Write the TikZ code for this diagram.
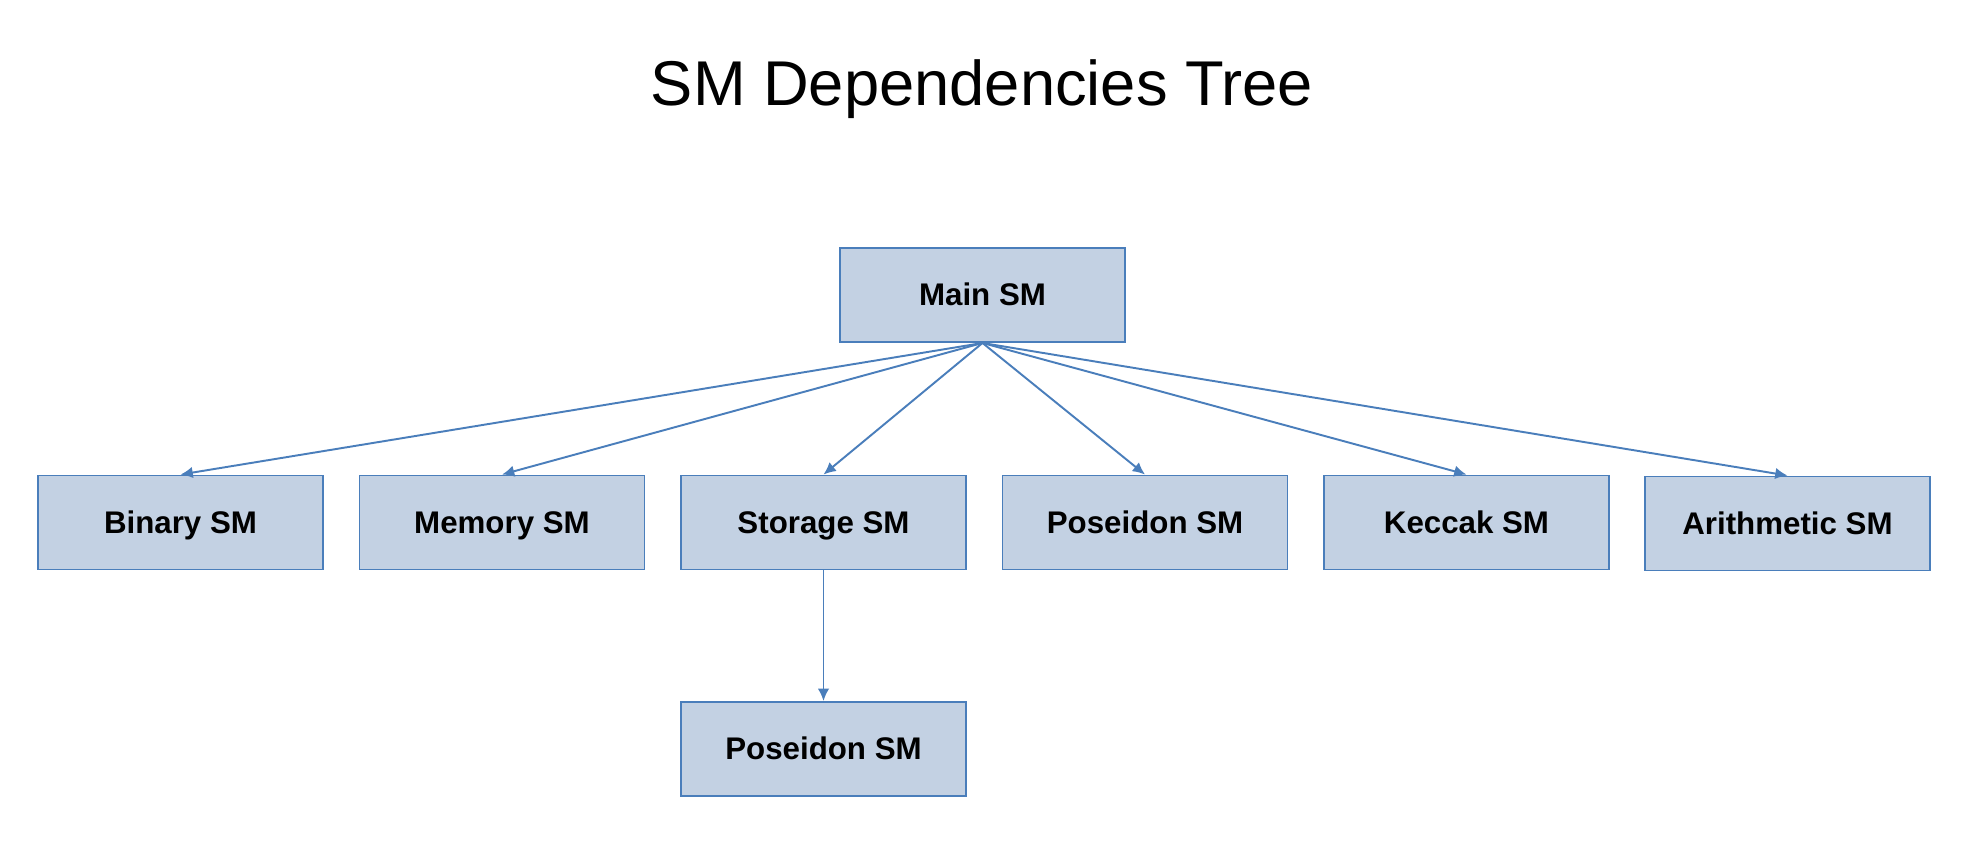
\documentclass[tikz,border=0pt]{standalone}
\usepackage{fontspec}
\setmainfont{Liberation Sans}
\usetikzlibrary{arrows.meta}
\definecolor{smfill}{RGB}{195,209,227}
\definecolor{smline}{RGB}{74,126,187}
\tikzset{smbox/.style={draw=smline, fill=smfill, line width=1.1pt, minimum width=5.7cm, minimum height=1.88cm, inner sep=0pt, text height=12.5pt, text depth=0pt, font=\fontsize{17.8}{20}\selectfont\bfseries}}
\tikzset{dep/.style={draw=smline, line width=1.1pt, -{Latex[length=7pt,width=6.5pt]}}}

\begin{document}
\begin{tikzpicture}
      \useasboundingbox (0, 0) rectangle (39.52, -17.02);

      \node (title) at (19.64, -1.78) {\fontsize{36}{40}\selectfont SM Dependencies Tree};

      \node [smbox] (main) at (19.65, -5.9) {Main SM};

      \node [smbox] (binary) at (3.61, -10.45) {Binary SM};
      \node [smbox] (memory) at (10.04, -10.45) {Memory SM};
      \node [smbox] (storage) at (16.47, -10.45) {Storage SM};
      \node [smbox] (poseidon) at (22.9, -10.45) {Poseidon SM};
      \node [smbox] (keccak) at (29.33, -10.45) {Keccak SM};
      \node [smbox] (arith) at (35.75, -10.47) {Arithmetic SM};

      \node [smbox] (poseidon2) at (16.47, -14.98) {Poseidon SM};

      \foreach \sm in {binary, memory, storage, poseidon, keccak, arith}
        \draw [dep] (main.south) -- (\sm.north);
      \draw [dep] (storage.south) -- (poseidon2.north);
    \end{tikzpicture}
\end{document}
